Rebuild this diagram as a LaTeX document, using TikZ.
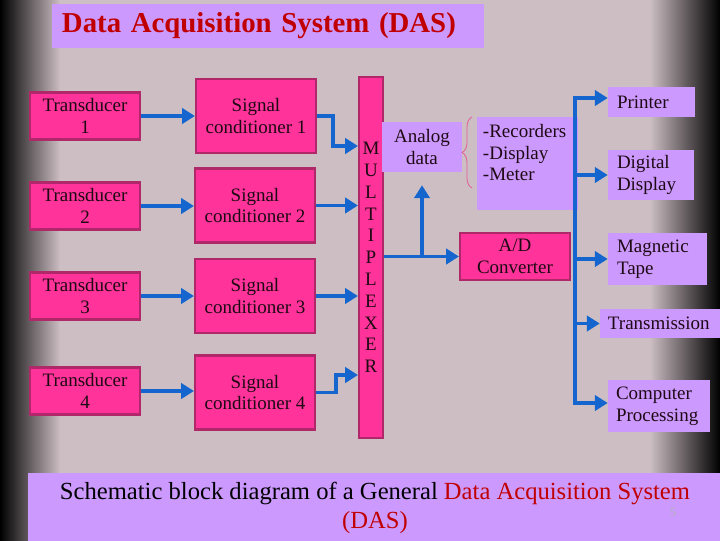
\documentclass[tikz,border=0pt]{standalone}
\usepackage{fontspec}
\setmainfont{Liberation Serif}
\usetikzlibrary{arrows.meta,positioning,decorations.pathreplacing}
\definecolor{bgc}{HTML}{CCBEC3}
\definecolor{pinkfill}{HTML}{FF3399}
\definecolor{pinkline}{HTML}{B0286A}
\definecolor{lilac}{HTML}{CC99FF}
\definecolor{darkred}{HTML}{C00000}
\definecolor{arrowblue}{HTML}{1565CF}
\definecolor{boxtext}{HTML}{1E0A14}
\definecolor{bracepink}{HTML}{E0609A}

\begin{document}
\begin{tikzpicture}
		[x=0.025cm,y=-0.025cm,
		bighead/.tip={Triangle[length=0.32cm,width=0.38cm]},
		pink box/.style={draw=pinkline,line width=1.5pt,fill=pinkfill,text=boxtext,align=center,inner sep=0pt,font=\fontsize{13.5}{15.5}\selectfont},
		lilac box/.style={fill=lilac,text=boxtext,inner sep=0pt,font=\fontsize{13.5}{15.5}\selectfont},
		sensor/.style={pink box,minimum width=2.75cm,minimum height=1.175cm},
		cond/.style={pink box,minimum width=3cm,minimum height=1.85cm},
		out box/.style={lilac box,align=left,inner xsep=0.225cm},
		link/.style={draw=arrowblue,line width=2.8pt,-bighead}]
		
		\useasboundingbox (0,0) rectangle (720,540);
		\fill[bgc] (0,0) rectangle (720,540);
		\shade[left color=black,right color=bgc] (0,0) rectangle (60,540);
		\shade[left color=bgc,right color=black] (650,0) rectangle (720,540);
		
		\node[lilac box,text=darkred,font=\fontsize{20.5}{24}\selectfont\bfseries,
		minimum height=1.1cm,text width=10.3cm,inner xsep=0.25cm,align=left] (title) at (268,26) {Data Acquisition System (DAS)};
		
		\node[sensor] (t1) at (85,116) {Transducer\\1};
		\node[sensor] (t2) at (85,206) {Transducer\\2};
		\node[sensor] (t3) at (85,296) {Transducer\\3};
		\node[sensor] (t4) at (85,391) {Transducer\\4};
		
		\node[cond] (s1) at (256,116) {Signal\\conditioner 1};
		\node[cond] (s2) at (255,205.5) {Signal\\conditioner 2};
		\node[cond] (s3) at (255,296) {Signal\\conditioner 3};
		\node[cond] (s4) at (255,392.5) {Signal\\conditioner 4};
		
		\node[pink box,minimum width=0.6cm,minimum height=9.025cm] (mux) at (371,257.5) {M\\U\\L\\T\\I\\P\\L\\E\\X\\E\\R};
		
		\node[lilac box,minimum width=2cm,minimum height=1.25cm,align=center] (analog) at (422,147) {Analog\\data};
		\node[lilac box,minimum width=2.525cm,minimum height=2.325cm,text width=2.225cm,align=left] (rec) at (527.5,163.5) {-Recorders\\-Display\\-Meter\\~};
		\node[sensor] (ad) at (515,256.5) {A/D\\Converter};
		
		\node[out box,minimum height=0.75cm,text width=1.725cm] (printer) at (651.5,102) {Printer};
		\node[out box,minimum height=1.25cm,text width=1.7cm] (digital) at (651,175) {Digital\\Display};
		\node[out box,minimum height=1.3cm,text width=2.025cm] (tape) at (657.5,259) {Magnetic\\Tape};
		\node[out box,minimum height=0.725cm,text width=2.6cm,inner xsep=0.2cm] (trans) at (660,323.5) {Transmission};
		\node[out box,minimum height=1.3cm,text width=2.15cm,inner xsep=0.2cm] (comp) at (659,406) {Computer\\Processing};
		
		\node[lilac box,minimum width=17.35cm,minimum height=1.75cm,align=center,text=black,
		font=\fontsize{17.5}{20}\selectfont] (caption) at (375,508) {Schematic block diagram of a General \textcolor{darkred}{Data Acquisition System}\\\textcolor{darkred}{(DAS)}};
		\node[text=gray!60,font=\fontsize{9}{10}\selectfont] (pagenum) at (673,512) {5};
		
		\draw[link] (t1) -- (t1 -| s1.west);
		\draw[link] (t2) -- (t2 -| s2.west);
		\draw[link] (t3) -- (t3 -| s3.west);
		\draw[link] (t4) -- (t4 -| s4.west);
		
		\coordinate (m1) at (358,146);
		\coordinate (m4) at (358,375);
		\draw[link] (s1.east) -- ++(16,0) |- (m1);
		\draw[link] (s2) -- (s2 -| mux.west);
		\draw[link] (s3) -- (s3 -| mux.west);
		\draw[link] (s4.east) -- ++(20,0) |- (m4);
		
		\draw[link] (mux.east |- ad.west) -- (ad.west);
		\draw[link,shorten >=0.325cm] (analog.south |- ad.west) -- (analog.south);
		\draw[bracepink,line width=0.6pt,decorate,decoration={brace,amplitude=0.25cm}] (472,188) -- (472,117);
		
		\coordinate (bustop) at (575,98);
		\coordinate (busend) at (575,403);
		\draw[link,bighead-bighead] (printer.west |- bustop) -- (bustop) -- (busend) -- (comp.west |- busend);
		\draw[link] (bustop |- digital.west) -- (digital.west);
		\draw[link] (bustop |- tape.west) -- (tape.west);
		\draw[link] (bustop |- trans.west) -- (trans.west);
		\end{tikzpicture}
\end{document}
